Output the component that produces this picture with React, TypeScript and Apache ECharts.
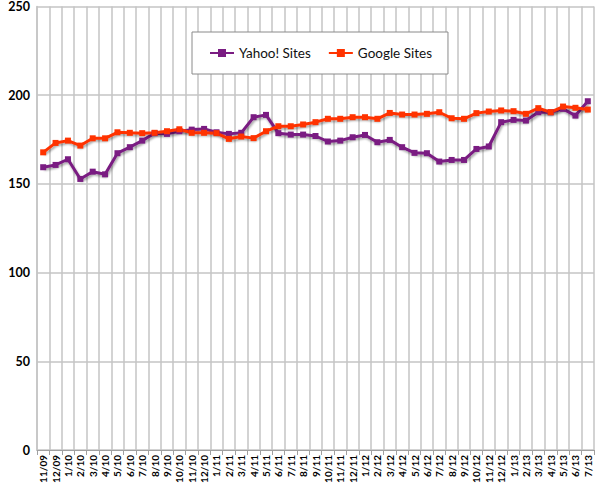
import React, { useEffect, useRef } from "react";
import * as echarts from "echarts";

const categories = [
  "11/09", "12/09", "1/10", "2/10", "3/10", "4/10", "5/10", "6/10", "7/10", "8/10", "9/10", "10/10",
  "11/10", "12/10", "1/11", "2/11", "3/11", "4/11", "5/11", "6/11", "7/11", "8/11", "9/11", "10/11",
  "11/11", "12/11", "1/12", "2/12", "3/12", "4/12", "5/12", "6/12", "7/12", "8/12", "9/12", "10/12",
  "11/12", "12/12", "1/13", "2/13", "3/13", "4/13", "5/13", "6/13", "7/13",
];

const yahooSites = [
  159.4, 160.7, 163.9, 152.8, 156.9, 155.4, 167.3, 170.7, 174.4, 178.6, 178.2, 179.7,
  180.6, 181.0, 179.1, 178.2, 178.8, 187.6, 188.9, 178.6, 177.8, 177.8, 177.0, 173.9,
  174.4, 176.3, 177.6, 173.5, 174.8, 170.7, 167.5, 167.3, 162.6, 163.5, 163.5, 169.7,
  171.1, 184.8, 186.1, 185.7, 190.4, 190.4, 192.3, 188.5, 196.6,
];

const googleSites = [
  167.8, 173.1, 174.4, 171.6, 175.7, 175.7, 179.1, 178.8, 178.6, 178.8, 179.7, 180.8,
  178.8, 178.8, 178.6, 175.4, 176.7, 175.8, 179.7, 182.5, 182.5, 183.5, 184.8, 186.7,
  186.7, 187.6, 187.6, 186.7, 190.0, 189.1, 189.1, 189.5, 190.4, 187.0, 186.7, 189.9,
  190.8, 191.4, 191.0, 189.5, 192.7, 190.4, 193.6, 192.9, 191.9,
];

const yTicks = { min: 0, max: 250, interval: 50 };

export default function App() {
  const ref = useRef<HTMLDivElement>(null);
  useEffect(() => {
    if (!ref.current) return;
    const chart = echarts.init(ref.current, undefined, { renderer: "svg" });
    const lineSeries = (name: string, data: number[], color: string) => ({
      name,
      type: "line",
      data,
      symbol: "rect",
      symbolSize: 6,
      showSymbol: true,
      lineStyle: {
        width: 3,
        color,
        shadowColor: "rgba(0,0,0,0.35)",
        shadowBlur: 2,
        shadowOffsetX: 1,
        shadowOffsetY: 2,
      },
      itemStyle: { color },
      emphasis: { disabled: true },
    });
    chart.setOption({
      animation: false,
      backgroundColor: "#ffffff",
      grid: { left: 37, right: 6, top: 6, bottom: 38, containLabel: false },
      legend: {
        left: 192,
        top: 32,
        padding: [14, 16, 14, 17],
        backgroundColor: "#ffffff",
        borderColor: "#8a8a8a",
        borderWidth: 1,
        itemWidth: 24,
        itemHeight: 10,
        itemGap: 17,
        textStyle: { fontFamily: "Lato", fontSize: 13.5, color: "#111" },
        data: ["Yahoo! Sites", "Google Sites"],
      },
      xAxis: {
        type: "category",
        data: categories,
        boundaryGap: true,
        axisLine: { show: true, lineStyle: { color: "#a0a0a0", width: 1 } },
        axisTick: { show: true, length: 5, interval: 0, lineStyle: { color: "#a0a0a0" } },
        splitLine: { show: true, interval: 0, lineStyle: { color: "#c4c4c4", width: 1.5 } },
        axisLabel: {
          interval: 0,
          rotate: 90,
          fontFamily: "Lato",
          fontWeight: "bold",
          fontSize: 10,
          color: "#000",
          margin: 5,
        },
      },
      yAxis: {
        type: "value",
        min: yTicks.min,
        max: yTicks.max,
        interval: yTicks.interval,
        axisLine: { show: true, lineStyle: { color: "#c4c4c4", width: 1.5 } },
        axisTick: { show: false },
        splitLine: { show: true, lineStyle: { color: "#c4c4c4", width: 1.5 } },
        axisLabel: {
          fontFamily: "Lato",
          fontWeight: "bold",
          fontSize: 12.5,
          color: "#000",
          margin: 7,
        },
      },
      series: [
        lineSeries("Yahoo! Sites", yahooSites, "#7A1C82"),
        lineSeries("Google Sites", googleSites, "#FF3300"),
      ],
    });
    return () => chart.dispose();
  }, []);
  return (
    <div
      ref={ref}
      style={{ position: "fixed", left: 0, top: 0, width: 600, height: 488 }}
    />
  );
}
